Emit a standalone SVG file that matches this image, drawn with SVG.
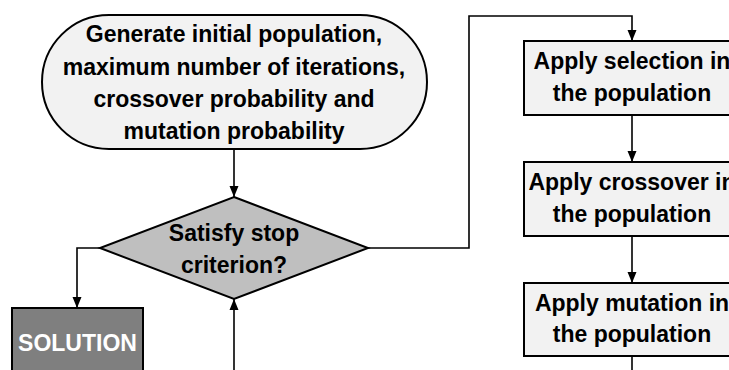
<svg xmlns="http://www.w3.org/2000/svg" width="729" height="370" viewBox="0 0 729 370">
  <style>
    .t { font-family: "Liberation Sans", Arial, sans-serif; font-weight: bold; font-size: 23px; text-anchor: middle; fill: #000; }
    .w { fill: #fff; }
    .box { fill: #f2f2f2; stroke: #000; stroke-width: 2; }
    .conn { fill: none; stroke: #000; stroke-width: 1.6; }
  </style>
  <defs>
    <marker id="arr" markerUnits="userSpaceOnUse" markerWidth="11" markerHeight="10" refX="11" refY="5" orient="auto">
      <path d="M0,0.5 L11,5 L0,9.5 z" fill="#000"/>
    </marker>
  </defs>
  <rect width="729" height="370" fill="#fff"/>

  <g id="connectors">
    <path class="conn" d="M234,149 L234,197" marker-end="url(#arr)"/>
    <path class="conn" d="M100,248 L77,248 L77,308" marker-end="url(#arr)"/>
    <path class="conn" d="M368,248 L469,248 L469,16 L632,16 L632,41" marker-end="url(#arr)"/>
    <path class="conn" d="M632,115 L632,162" marker-end="url(#arr)"/>
    <path class="conn" d="M632,236 L632,283" marker-end="url(#arr)"/>
    <path class="conn" d="M632,356 L632,372"/>
    <path class="conn" d="M234,372 L234,299" marker-end="url(#arr)"/>
  </g>

  <g id="start">
    <rect class="box" x="42" y="15" width="385" height="134" rx="67" ry="67"/>
    <text class="t" x="234" y="42">Generate initial population,</text>
    <text class="t" x="234" y="74.5">maximum number of iterations,</text>
    <text class="t" x="234" y="106.5">crossover probability and</text>
    <text class="t" x="234" y="139">mutation probability</text>
  </g>

  <g id="decision">
    <polygon points="234,197 368,248 234,299 100,248" fill="#bfbfbf" stroke="#000" stroke-width="2"/>
    <text class="t" x="234" y="241">Satisfy stop</text>
    <text class="t" x="234" y="273">criterion?</text>
  </g>

  <g id="solution">
    <rect x="12" y="308" width="131" height="80" fill="#7f7f7f" stroke="#000" stroke-width="2"/>
    <text class="t w" x="77.5" y="351">SOLUTION</text>
  </g>

  <g id="selection">
    <rect class="box" x="524" y="41" width="216" height="74"/>
    <text class="t" x="632" y="69">Apply selection in</text>
    <text class="t" x="632" y="101">the population</text>
  </g>

  <g id="crossover">
    <rect class="box" x="524" y="162" width="216" height="74"/>
    <text class="t" x="632" y="190">Apply crossover in</text>
    <text class="t" x="632" y="222">the population</text>
  </g>

  <g id="mutation">
    <rect class="box" x="524" y="283" width="216" height="73"/>
    <text class="t" x="632" y="311">Apply mutation in</text>
    <text class="t" x="632" y="342">the population</text>
  </g>
</svg>
